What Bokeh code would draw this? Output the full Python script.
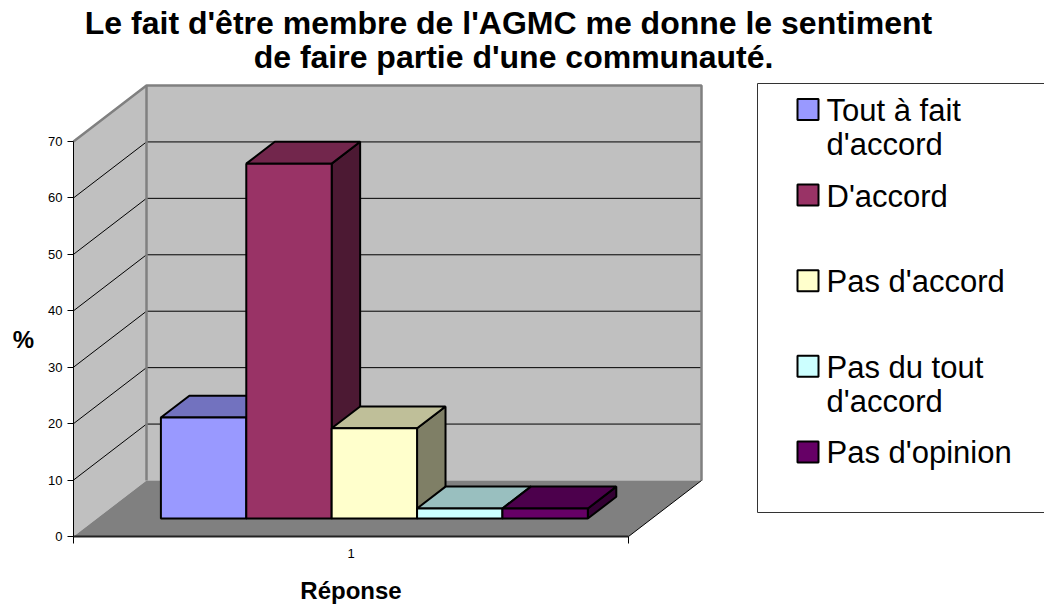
from bokeh.plotting import figure
from bokeh.models import Range1d, FixedTicker, Label, LinearAxis
from bokeh.embed import file_html
from bokeh.resources import INLINE
from bokeh.core.properties import value

# ---------------- data ----------------
title_lines = ["Le fait d'être membre de l'AGMC me donne le sentiment",
               "de faire partie d'une communauté."]
categories = ["Tout à fait d'accord", "D'accord", "Pas d'accord",
              "Pas du tout d'accord", "Pas d'opinion"]
legend_lines = [["Tout à fait", "d'accord"], ["D'accord"], ["Pas d'accord"],
                ["Pas du tout", "d'accord"], ["Pas d'opinion"]]
values = [17.9, 62.9, 16.0, 1.8, 1.8]
colors = ["#9999FF", "#993366", "#FFFFCC", "#CCFFFF", "#660066"]
y_ticks = [0, 10, 20, 30, 40, 50, 60, 70]
x_tick_labels = ["1"]
x_label = "Réponse"
y_label = "%"

# ---------------- layout / style ----------------
FONT = "Liberation Sans"
W, H = 1044, 606
PAGE_OFF = 0                   # the page template puts the canvas at the top-left corner
ORIG_X, ORIG_Y = 73, 536       # page pixel of the front-axis origin
CAT_PX = 555.0                 # pixels per category-axis unit
VAL_PX = 395.0 / 70.0          # pixels per value unit
DEPTH_X = 73.0 / CAT_PX        # oblique depth offset (x units)
DEPTH_Y = 56.0 / VAL_PX        # oblique depth offset (value units)
GAP = 1.5                      # gap width (fraction of a bar)
D0, D1 = 0.32, 0.71            # bar depth span (0 = front, 1 = back)
WALL = "#C0C0C0"
FLOOR = "#808080"
EDGE = "#808080"
BASE_FIX = 0.32                # baseline correction (em) for text placement


def px(xp):
    return (xp - ORIG_X) / CAT_PX


def py(yp):
    return (ORIG_Y - yp) / VAL_PX


def pyb(yp, size):
    """data y for a text whose visual baseline should sit at page pixel yp"""
    return py(yp - BASE_FIX * size)


def shade(hx, f):
    hx = hx.lstrip("#")
    r, g, b = (int(hx[i:i + 2], 16) for i in (0, 2, 4))
    return "#%02x%02x%02x" % (int(r * f), int(g * f), int(b * f))


p = figure(width=W, height=H,
           x_range=Range1d(px(PAGE_OFF), px(PAGE_OFF + W)),
           y_range=Range1d(py(PAGE_OFF + H), py(PAGE_OFF)),
           output_backend="svg", toolbar_location=None, title=None,
           x_axis_location=None, y_axis_location=None,
           min_border=0, min_border_left=0, min_border_right=0,
           min_border_top=0, min_border_bottom=0)
p.outline_line_color = None
p.grid.visible = False
p.background_fill_color = "white"
p.border_fill_color = "white"

top = y_ticks[-1]
# walls and floor
p.patch([0, DEPTH_X, DEPTH_X, 0], [0, DEPTH_Y, top + DEPTH_Y, top],
        fill_color=WALL, line_color=None)
p.patch([DEPTH_X, 1 + DEPTH_X, 1 + DEPTH_X, DEPTH_X],
        [DEPTH_Y, DEPTH_Y, top + DEPTH_Y, top + DEPTH_Y],
        fill_color=WALL, line_color=None)
p.patch([0, 1, 1 + DEPTH_X, DEPTH_X], [0, 0, DEPTH_Y, DEPTH_Y],
        fill_color=FLOOR, line_color=None)

# gridlines (side wall diagonals + back wall horizontals)
gx, gy = [], []
for t in y_ticks[1:-1]:
    gx.append([0, DEPTH_X, 1 + DEPTH_X])
    gy.append([t, t + DEPTH_Y, t + DEPTH_Y])
p.multi_line(gx, gy, line_color="black", line_width=1)

# wall edges
p.multi_line([[0, DEPTH_X, 1 + DEPTH_X, 1 + DEPTH_X], [DEPTH_X, DEPTH_X]],
             [[top, top + DEPTH_Y, top + DEPTH_Y, DEPTH_Y], [DEPTH_Y, top + DEPTH_Y]],
             line_color=EDGE, line_width=2.5)
p.line([1, 1 + DEPTH_X], [0, DEPTH_Y], line_color="black", line_width=1)

# 3D bars
n = len(values)
bw = 1.0 / (n + GAP)
ox0, oy0 = D0 * DEPTH_X, D0 * DEPTH_Y
ox1, oy1 = D1 * DEPTH_X, D1 * DEPTH_Y
bx, by, bc = [], [], []
for i, (v, c) in enumerate(zip(values, colors)):
    xl = GAP / 2 * bw + i * bw
    xr = xl + bw
    bx.append([xr + ox0, xr + ox1, xr + ox1, xr + ox0])
    by.append([oy0, oy1, v + oy1, v + oy0])
    bc.append(shade(c, 0.5))
    bx.append([xl + ox0, xr + ox0, xr + ox1, xl + ox1])
    by.append([v + oy0, v + oy0, v + oy1, v + oy1])
    bc.append(shade(c, 0.75))
    bx.append([xl + ox0, xr + ox0, xr + ox0, xl + ox0])
    by.append([oy0, oy0, v + oy0, v + oy0])
    bc.append(c)
p.patches(bx, by, fill_color=bc, line_color="black", line_width=2)

# axes (fixed at the front origin of the 3D box)
xa = LinearAxis(fixed_location=0)
xa.ticker = FixedTicker(ticks=[0.5], minor_ticks=[0, 1])
xa.major_label_overrides = {0.5: x_tick_labels[0]}
xa.bounds = (0, 1)
xa.major_tick_out = 0
xa.major_tick_in = 0
xa.minor_tick_out = 7
xa.minor_tick_in = 0
xa.minor_tick_line_color = "black"
xa.axis_line_width = 2
xa.axis_line_color = "#222222"
xa.major_label_standoff = 5
xa.major_label_text_font = FONT
xa.major_label_text_font_size = "13px"
xa.major_label_text_color = "black"
p.add_layout(xa, "below")

ya = LinearAxis(fixed_location=0)
ya.ticker = FixedTicker(ticks=y_ticks)
ya.bounds = (0, top)
ya.major_tick_out = 6
ya.major_tick_in = 0
ya.minor_tick_out = 0
ya.minor_tick_in = 0
ya.major_label_standoff = 5
ya.major_label_text_font = FONT
ya.major_label_text_font_size = "13px"
ya.major_label_text_color = "black"
p.add_layout(ya, "left")

# axis titles
p.add_layout(Label(x=px(23), y=pyb(347, 24), text=y_label, text_align="center",
                   text_baseline="alphabetic", text_font=FONT, text_font_style="bold",
                   text_font_size="24px", text_color="black"))
p.add_layout(Label(x=0.5, y=pyb(598, 24), text=x_label, text_align="center",
                   text_baseline="alphabetic", text_font=FONT, text_font_style="bold",
                   text_font_size="24px", text_color="black"))

# legend (box, swatches, labels)
LEG_L, LEG_T, LEG_B = 757, 83, 512
SW_L, SW = 797, 21
TXT_L = 826
ITEM0, STEP = 109, 85.6
LINE_H = 34
LEG_FS = 31
p.quad(left=[px(LEG_L)], right=[px(LEG_L + 400)], top=[py(LEG_T)], bottom=[py(LEG_B)],
       fill_color="white", line_color="#333333", line_width=1)
sl, sr, st, sb = [], [], [], []
tx, ty, tt = [], [], []
for i, lines in enumerate(legend_lines):
    cy = ITEM0 + i * STEP
    sl.append(px(SW_L)); sr.append(px(SW_L + SW))
    st.append(py(cy - SW / 2)); sb.append(py(cy + SW / 2))
    for j, ln in enumerate(lines):
        tx.append(px(TXT_L)); ty.append(pyb(cy + 11 + j * LINE_H, LEG_FS)); tt.append(ln)
p.quad(left=sl, right=sr, top=st, bottom=sb, fill_color=colors, line_color="black", line_width=2)
p.text(x=tx, y=ty, text=tt, text_font=value(FONT), text_font_size="%dpx" % LEG_FS,
       text_color="black", text_align="left", text_baseline="alphabetic")

# title
for ln, xc, yb in zip(title_lines, [508, 513], [33, 67]):
    p.add_layout(Label(x=px(xc), y=pyb(yb, 32), text=ln, text_align="center",
                       text_baseline="alphabetic", text_font=FONT,
                       text_font_style="bold", text_font_size="32px", text_color="black"))

open("out.html", "w").write(file_html(p, INLINE))
